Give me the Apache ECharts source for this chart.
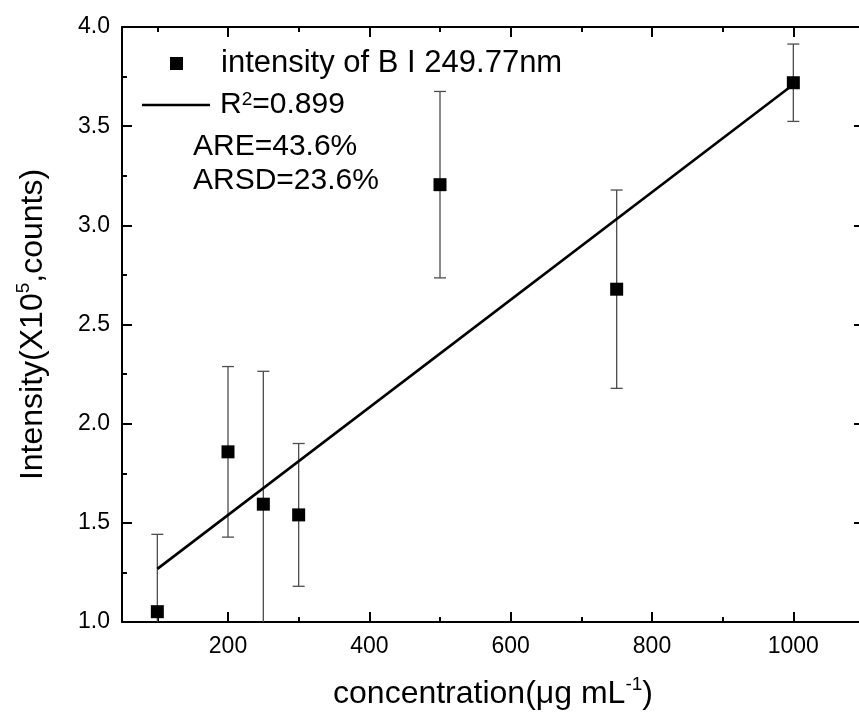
<!DOCTYPE html>
<html><head><meta charset="utf-8">
<script src="https://cdn.jsdelivr.net/npm/echarts@6/dist/echarts.min.js"></script>
<style>html,body{margin:0;padding:0;background:#fff;overflow:hidden}#c{width:868px;height:718px}</style>
</head><body><div id="c"></div>
<script>
// ---- data ----
const concentration = [100, 200, 250, 300, 500, 750, 1000];
const intensity = [1.052, 1.858, 1.594, 1.540, 3.205, 2.678, 3.719];
const errorSize = [0.39, 0.43, 0.67, 0.36, 0.47, 0.50, 0.195];
const fitX = [100, 1000];
const fitY = [1.268, 3.71];
const xMajorTicks = [200, 400, 600, 800, 1000];
const xMinorTicks = [100, 300, 500, 700, 900, 1100];
const xRange = [50, 1100];
const yRange = [1.0, 4.0];
const yStep = 0.5;
const seriesName = 'intensity of B I 249.77nm';
const fitName = 'fit';
const statsLines = ['ARE=43.6%', 'ARSD=23.6%'];

const FONT = '"Liberation Sans", Arial, Helvetica, sans-serif';
const chart = echarts.init(document.getElementById('c'), null, {renderer: 'canvas'});

const pts = concentration.map((x, i) => [x, intensity[i]]);
const errs = concentration.map((x, i) => [x, intensity[i] - errorSize[i], intensity[i] + errorSize[i]]);
const fit = fitX.map((x, i) => [x, fitY[i]]);

function xAxisDef(position, ticks, len, showLine, showLabel, extra) {
  return Object.assign({
    type: 'value', gridIndex: 0, position: position,
    min: xRange[0], max: xRange[1],
    axisLine: {show: showLine, onZero: false, lineStyle: {color: '#000', width: 2}},
    axisTick: {show: true, inside: true, length: len, customValues: ticks, lineStyle: {color: '#000', width: 2}},
    axisLabel: {show: showLabel, customValues: ticks, color: '#000', fontSize: 23, fontFamily: FONT, margin: 13,
      formatter: v => String(v)},
    splitLine: {show: false}
  }, extra || {});
}
function yAxisDef(position, showLabel, extra) {
  return Object.assign({
    type: 'value', gridIndex: 0, position: position,
    min: yRange[0], max: yRange[1], interval: yStep,
    axisLine: {show: true, onZero: false, lineStyle: {color: '#000', width: 2}},
    axisTick: {show: true, inside: true, length: 10, lineStyle: {color: '#000', width: 2}},
    minorTick: {show: true, splitNumber: 2, length: 5, lineStyle: {color: '#000', width: 2}},
    axisLabel: {show: showLabel, color: '#000', fontSize: 23, fontFamily: FONT, margin: 12,
      formatter: v => v.toFixed(1)},
    splitLine: {show: false}, minorSplitLine: {show: false}
  }, extra || {});
}

const supStyle = {fontSize: 19, verticalAlign: 'top', lineHeight: 19, color: '#000', fontFamily: FONT};

const option = {
  backgroundColor: '#fff',
  animation: false,
  textStyle: {fontFamily: FONT},
  grid: {left: 122, top: 27, width: 742, height: 597, containLabel: false},
  xAxis: [
    xAxisDef('bottom', xMajorTicks, 10, true, true, {
      name: 'concentration(\u03bcg mL{sup|-1})', nameLocation: 'middle', nameGap: 53,
      nameTextStyle: {color: '#000', fontSize: 32, fontFamily: FONT, lineHeight: 38, rich: {sup: supStyle}}
    }),
    xAxisDef('bottom', xMinorTicks, 5, false, false),
    xAxisDef('top', xMajorTicks, 10, true, false),
    xAxisDef('top', xMinorTicks, 5, false, false)
  ],
  yAxis: [
    yAxisDef('left', true, {
      name: 'Intensity(X10{sup|5},counts)', nameLocation: 'middle', nameGap: 70,
      nameTextStyle: {color: '#000', fontSize: 32, fontFamily: FONT, lineHeight: 38, rich: {sup: supStyle}}
    }),
    yAxisDef('right', false)
  ],
  legend: [
    {
      data: [{name: seriesName, icon: 'rect'}],
      left: 170, top: 48, padding: 0,
      itemWidth: 13, itemHeight: 13, selectedMode: false,
      itemStyle: {color: '#000', opacity: 1},
      textStyle: {fontSize: 31, color: '#000', fontFamily: FONT, padding: [0, 0, 0, 33]}
    },
    {
      data: [{name: fitName, icon: 'rect'}],
      left: 142, top: 90, padding: 0,
      itemWidth: 68, itemHeight: 2.6, selectedMode: false,
      itemStyle: {color: '#000', opacity: 1},
      formatter: () => 'R{sup|2}=0.899',
      textStyle: {fontSize: 30, color: '#000', fontFamily: FONT, padding: [0, 0, 0, 5], rich: {sup: supStyle}}
    }
  ],
  graphic: statsLines.map((t, i) => ({
    type: 'text', left: 193, top: 132 + i * 34,
    style: {text: t, fill: '#000', font: '30px ' + FONT}
  })),
  series: [
    {
      type: 'custom', name: 'err', xAxisIndex: 0, yAxisIndex: 0, z: 2,
      data: errs,
      renderItem: function (params, api) {
        const x = api.value(0), lo = api.value(1), hi = api.value(2);
        const cs = params.coordSys;
        const pHi = api.coord([x, hi]);
        const pLo = api.coord([x, lo]);
        const top = Math.max(pHi[1], cs.y);
        const bottom = Math.min(pLo[1], cs.y + cs.height);
        const st = {stroke: '#4d4d4d', lineWidth: 1.3};
        const half = 6;
        const ch = [{type: 'line', shape: {x1: pHi[0], y1: top, x2: pHi[0], y2: bottom}, style: st}];
        if (pHi[1] >= cs.y) ch.push({type: 'line', shape: {x1: pHi[0] - half, y1: pHi[1], x2: pHi[0] + half, y2: pHi[1]}, style: st});
        if (pLo[1] <= cs.y + cs.height) ch.push({type: 'line', shape: {x1: pLo[0] - half, y1: pLo[1], x2: pLo[0] + half, y2: pLo[1]}, style: st});
        return {type: 'group', children: ch};
      }
    },
    {
      type: 'line', name: fitName, data: fit, xAxisIndex: 0, yAxisIndex: 0, z: 3,
      symbol: 'none', showSymbol: false,
      lineStyle: {color: '#000', width: 2.6}, itemStyle: {color: '#000'}
    },
    {
      type: 'scatter', name: seriesName, data: pts, xAxisIndex: 0, yAxisIndex: 0, z: 4,
      symbol: 'rect', symbolSize: 13, itemStyle: {color: '#000', opacity: 1}
    }
  ]
};
chart.setOption(option);
</script>
</body></html>
